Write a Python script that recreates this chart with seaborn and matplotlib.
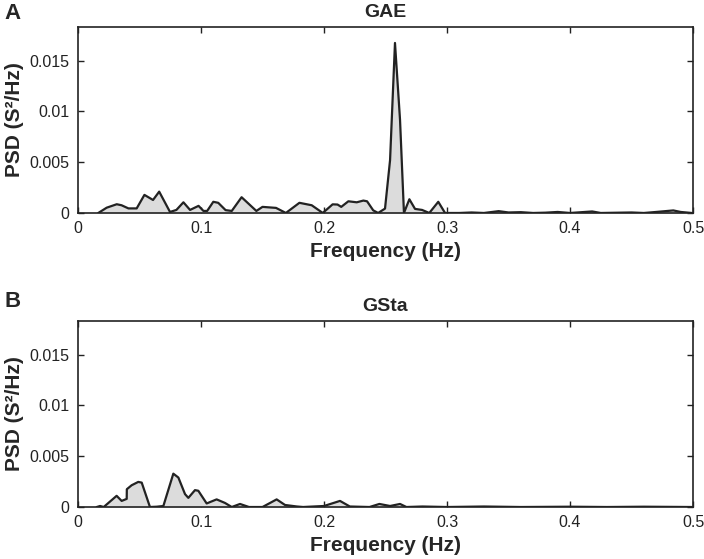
import matplotlib
matplotlib.use("Agg")
import matplotlib.pyplot as plt
import seaborn as sns
import pandas as pd

# PSD (frequency in Hz, PSD in S^2/Hz)
freq_gae = [0.0165, 0.0233, 0.0315, 0.0354, 0.041, 0.0477, 0.054, 0.061, 0.066, 0.0748,
            0.080, 0.0857, 0.0911, 0.098, 0.102, 0.105, 0.110, 0.114, 0.120, 0.125,
            0.133, 0.145, 0.150, 0.161, 0.169, 0.180, 0.190, 0.199, 0.207, 0.211,
            0.214, 0.2198, 0.2266, 0.232, 0.235, 0.240, 0.244, 0.2496, 0.2537, 0.2577,
            0.2618, 0.265, 0.2694, 0.274, 0.2797, 0.2856, 0.2929, 0.2984, 0.310, 0.320,
            0.330, 0.342, 0.350, 0.360, 0.370, 0.380, 0.390, 0.400, 0.418, 0.425,
            0.440, 0.450, 0.460, 0.470, 0.484, 0.490, 0.499]
psd_gae = [0.0, 0.00052, 0.00086, 0.00076, 0.00045, 0.00045, 0.00178, 0.00128, 0.0021, 0.0001,
           0.0003, 0.00105, 0.0003, 0.0007, 0.0002, 0.0002, 0.0011, 0.001, 0.00028, 0.0002,
           0.00155, 0.0002, 0.0006, 0.0005, 0.0, 0.001, 0.00076, 0.0, 0.00085, 0.00083,
           0.0006, 0.00115, 0.00105, 0.00122, 0.00115, 0.00026, 0.0, 0.00043, 0.0052, 0.01673,
           0.00917, 0.0, 0.00135, 0.0004, 0.0003, 0.0, 0.0011, 0.0, 0.0, 0.00005,
           0.0, 0.00018, 0.00005, 0.00008, 0.0, 0.00003, 0.0001, 0.0, 0.00015, 0.0,
           0.00003, 0.00005, 0.0, 0.0001, 0.00025, 0.0001, 0.0]

freq_gsta = [0.0152, 0.018, 0.0209, 0.0314, 0.0355, 0.0396, 0.0397, 0.0436, 0.049, 0.0518,
             0.0585, 0.064, 0.0694, 0.0775, 0.0816, 0.087, 0.0897, 0.0951, 0.0978, 0.1046,
             0.1127, 0.1195, 0.125, 0.1317, 0.139, 0.150, 0.1615, 0.1683, 0.178, 0.183,
             0.200, 0.213, 0.221, 0.237, 0.245, 0.2537, 0.2618, 0.267, 0.280, 0.300,
             0.330, 0.360, 0.400, 0.430, 0.460, 0.499]
psd_gsta = [0.0, 0.0001, 0.0, 0.0011, 0.0006, 0.0008, 0.00175, 0.00214, 0.00247, 0.0024,
            0.0, 0.00003, 0.0001, 0.00328, 0.0029, 0.00127, 0.0009, 0.00166, 0.0016, 0.00035,
            0.00075, 0.0004, 0.0, 0.0003, 0.0, 0.0, 0.00075, 0.0002, 0.00005, 0.0,
            0.0001, 0.0006, 0.00005, 0.0, 0.0003, 0.0001, 0.0003, 0.0, 0.00005, 0.0,
            0.00005, 0.0, 0.00003, 0.0, 0.00003, 0.0]

panels = [("A", "GAE", freq_gae, psd_gae, 0.976), ("B", "GSta", freq_gsta, psd_gsta, 0.46)]

sns.set_style("ticks")
plt.rcParams["font.family"] = ["Liberation Sans", "DejaVu Sans"]

fig = plt.figure(figsize=(7.04, 5.59), dpi=100)
axes = [fig.add_axes([0.1108, 0.619, 0.8736, 0.3327]),
        fig.add_axes([0.1108, 0.093, 0.8736, 0.3327])]

for ax, (letter, title, freq, psd, letter_y) in zip(axes, panels):
    df = pd.DataFrame({"freq": freq, "psd": psd})
    ax.fill_between(df["freq"], df["psd"], 0, color="#dcdcdc", lw=0)
    sns.lineplot(data=df, x="freq", y="psd", ax=ax, color="#222222", lw=1.6,
                 sort=False, estimator=None)
    ax.set_xlim(0, 0.5)
    ax.set_ylim(0, 0.0183)
    ax.set_xticks([0, 0.1, 0.2, 0.3, 0.4, 0.5])
    ax.set_xticklabels(["0", "0.1", "0.2", "0.3", "0.4", "0.5"])
    ax.set_yticks([0, 0.005, 0.01, 0.015])
    ax.set_yticklabels(["0", "0.005", "0.01", "0.015"])
    ax.tick_params(direction="in", top=True, right=True, length=4, width=1,
                   labelsize=11.5, colors="#222222", pad=6)
    for sp in ax.spines.values():
        sp.set_linewidth(1.2)
        sp.set_color("#222222")
    ax.set_xlabel("Frequency (Hz)", fontsize=15, fontweight="bold", labelpad=4)
    ax.set_ylabel("PSD (S²/Hz)", fontsize=15, fontweight="bold", labelpad=4)
    ax.set_title(title, fontsize=14, fontweight="bold", pad=7)
    fig.text(0.006, letter_y, letter, fontsize=16, fontweight="bold",
             ha="left", va="center")

fig.savefig("out.png", dpi=100)
